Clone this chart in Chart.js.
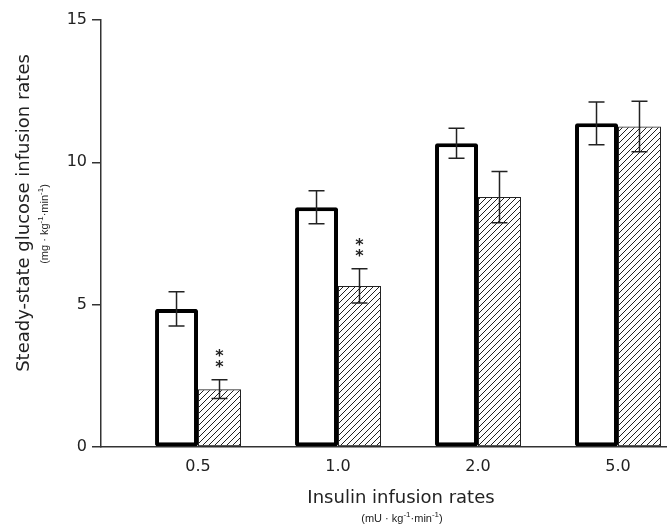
<!DOCTYPE html>
<html>
<head>
<meta charset="utf-8">
<script src="https://cdn.jsdelivr.net/npm/chart.js@4/dist/chart.umd.min.js"></script>
<style>
  html, body { margin: 0; padding: 0; background: #fff; }
  #wrap { width: 667px; height: 527px; }
</style>
</head>
<body>
<div id="wrap"><canvas id="chart" width="667" height="527"></canvas></div>
<script>
// insulin infusion rates (categories on x)
var categories = ['0.5', '1.0', '2.0', '5.0'];
// open bars
var controlMeans = [4.85, 8.42, 10.67, 11.37];
var controlSEM = [0.6, 0.58, 0.53, 0.75];
// hatched bars
var treatedMeans = [2.03, 5.66, 8.78, 11.26];
var treatedSEM = [0.33, 0.6, 0.9, 0.89];
var treatedMarks = ['**', '**', '', ''];
var yTicks = [0, 5, 10, 15];

var ink = '#222';
var fontFamily = "'DejaVu Sans', sans-serif";
var unitFont = "'Liberation Sans', sans-serif";

var canvas = document.getElementById('chart');
var ctx = canvas.getContext('2d');

function hatchPattern() {
	var c = document.createElement('canvas');
	c.width = 6; c.height = 6;
	var g = c.getContext('2d');
	g.strokeStyle = ink;
	g.lineWidth = 1;
	g.beginPath();
	g.moveTo(0, 6); g.lineTo(6, 0);
	g.moveTo(-1, 1); g.lineTo(1, -1);
	g.moveTo(5, 7); g.lineTo(7, 5);
	g.stroke();
	return ctx.createPattern(c, 'repeat');
}

function toPoints(arr) {
	return arr.map(function (v, i) { return { x: i, y: v }; });
}

// draws "(unit·kg-1·min-1)" with raised exponents, centred on (cx, base)
function drawUnits(c, first, cx, base) {
	var runs = [['(' + first + ' \u00b7 kg', 0], ['-1', 1], ['\u00b7min', 0], ['-1', 1], [')', 0]];
	var fonts = ['11px ' + unitFont, '8px ' + unitFont];
	var w = 0;
	runs.forEach(function (r) { c.font = fonts[r[1]]; w += c.measureText(r[0]).width; });
	var x = cx - w / 2;
	c.textAlign = 'left';
	runs.forEach(function (r) {
		c.font = fonts[r[1]];
		c.fillText(r[0], x, base - (r[1] ? 5 : 0));
		x += c.measureText(r[0]).width;
	});
	c.textAlign = 'center';
}

var errorBars = {
	id: 'errorBars',
	afterDatasetsDraw: function (chart) {
		var c = chart.ctx, y = chart.scales.y;
		var sets = [[controlMeans, controlSEM], [treatedMeans, treatedSEM]];
		c.save();
		c.strokeStyle = ink;
		c.lineWidth = 1.5;
		sets.forEach(function (s, d) {
			var meta = chart.getDatasetMeta(d);
			meta.data.forEach(function (bar, i) {
				var top = y.getPixelForValue(s[0][i] + s[1][i]);
				var bot = y.getPixelForValue(s[0][i] - s[1][i]);
				var x = bar.x;
				c.beginPath();
				c.moveTo(x, top); c.lineTo(x, bot);
				c.moveTo(x - 8, top); c.lineTo(x + 8, top);
				c.moveTo(x - 8, bot); c.lineTo(x + 8, bot);
				c.stroke();
				if (d === 1 && treatedMarks[i]) {
					c.fillStyle = ink;
					c.font = 'bold 16px ' + fontFamily;
					c.textAlign = 'center';
					c.textBaseline = 'middle';
					treatedMarks[i].split('').forEach(function (m, k) {
						c.fillText(m, x, top - 12 - 11 * k);
					});
				}
			});
		});
		c.restore();
	}
};

var axisTitles = {
	id: 'axisTitles',
	afterDraw: function (chart) {
		var c = chart.ctx;
		c.save();
		c.fillStyle = ink;
		c.textAlign = 'center';
		c.textBaseline = 'alphabetic';
		c.font = '18px ' + fontFamily;
		c.fillText('Insulin infusion rates', 401, 503);
		drawUnits(c, 'mU', 402, 522);
		c.translate(29, 213);
		c.rotate(-Math.PI / 2);
		c.font = '18px ' + fontFamily;
		c.fillText('Steady-state glucose infusion rates', 0, 0);
		drawUnits(c, 'mg', -11, 19);
		c.restore();
	}
};

var chart = new Chart(ctx, {
	type: 'bar',
	data: {
		datasets: [{
			label: 'control',
			data: toPoints(controlMeans),
			backgroundColor: '#fff',
			borderColor: '#000',
			borderWidth: 4,
			borderSkipped: false,
			borderRadius: 2
		}, {
			label: 'treated',
			data: toPoints(treatedMeans),
			backgroundColor: hatchPattern(),
			borderColor: ink,
			borderWidth: 1,
			borderSkipped: false
		}]
	},
	options: {
		responsive: false,
		animation: false,
		categoryPercentage: 0.614,
		barPercentage: 1,
		layout: { padding: { top: 20, right: 0, left: 0, bottom: 0 } },
		plugins: {
			legend: { display: false },
			tooltip: { enabled: false }
		},
		scales: {
			x: {
				type: 'linear',
				min: -0.693,
				max: 3.35,
				offset: false,
				grid: { display: false, drawTicks: false, offset: false },
				border: { display: true, color: '#333', width: 1.5 },
				afterBuildTicks: function (scale) {
					scale.ticks = categories.map(function (c, i) { return { value: i }; });
				},
				afterFit: function (scale) { scale.height = 80; },
				ticks: {
					padding: 10,
					color: ink,
					font: { family: fontFamily, size: 16 },
					maxRotation: 0,
					callback: function (v) { return categories[v]; }
				}
			},
			y: {
				min: 0,
				max: 15,
				grid: { drawOnChartArea: false, drawTicks: true, tickLength: 9, color: '#333', lineWidth: 1.5 },
				border: { display: true, color: '#333', width: 1.5 },
				afterBuildTicks: function (scale) {
					scale.ticks = yTicks.map(function (v) { return { value: v }; });
				},
				afterFit: function (scale) { scale.width = 101; },
				ticks: {
					padding: 5,
					color: ink,
					font: { family: fontFamily, size: 16 }
				}
			}
		}
	},
	plugins: [errorBars, axisTitles]
});
</script>
</body>
</html>
